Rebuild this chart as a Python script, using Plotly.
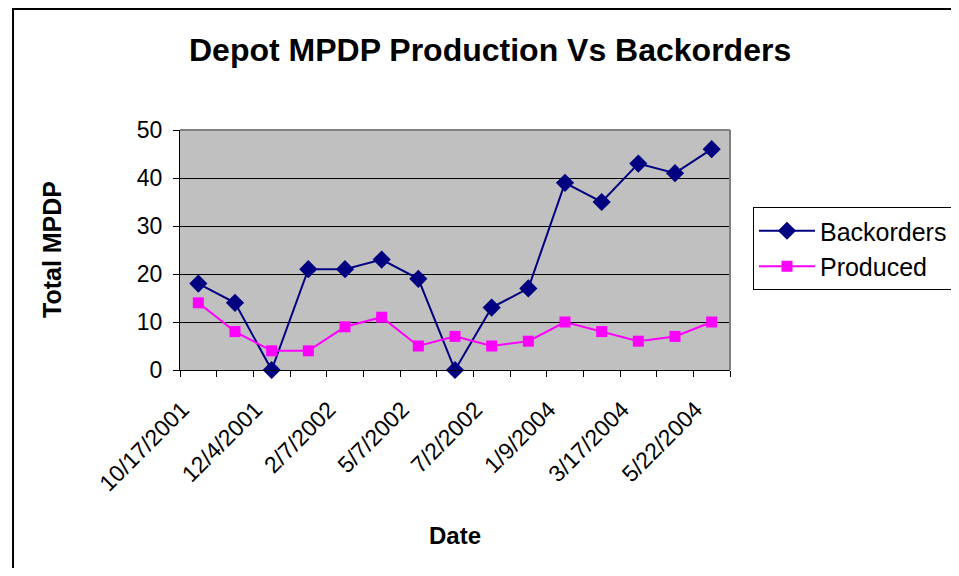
import plotly.graph_objects as go

positions = list(range(1, 16))
tick_positions = [1, 3, 5, 7, 9, 11, 13, 15]
tick_labels = ["10/17/2001", "12/4/2001", "2/7/2002", "5/7/2002",
               "7/2/2002", "1/9/2004", "3/17/2004", "5/22/2004"]
backorders = [18, 14, 0, 21, 21, 23, 19, 0, 13, 17, 39, 35, 43, 41, 46]
produced = [14, 8, 4, 4, 9, 11, 5, 7, 5, 6, 10, 8, 6, 7, 10]

FONT = "Liberation Sans, Arial, sans-serif"

fig = go.Figure()

fig.add_trace(go.Scatter(
    x=positions, y=backorders, mode="lines+markers", name="Backorders",
    line=dict(color="#000080", width=2),
    marker=dict(symbol="diamond", size=14, color="#000080"),
    cliponaxis=False,
))
fig.add_trace(go.Scatter(
    x=positions, y=produced, mode="lines+markers", name="Produced",
    line=dict(color="#FF00FF", width=2),
    marker=dict(symbol="square", size=11, color="#FF00FF"),
    cliponaxis=False,
))

# outer chart frame (right and bottom sides run off the picture)
fig.add_shape(type="rect", xref="paper", yref="paper",
              x0=-0.3036, x1=1.45, y0=-0.9, y1=1.504,
              line=dict(color="black", width=2), layer="below")
# grey top/right border of the plot area
fig.add_shape(type="line", xref="paper", yref="paper", x0=0, x1=1, y0=1, y1=1,
              line=dict(color="#808080", width=2))
fig.add_shape(type="line", xref="paper", yref="paper", x0=1, x1=1, y0=0, y1=1,
              line=dict(color="#808080", width=2))

fig.add_annotation(text="<b>Depot MPDP Production Vs Backorders</b>",
                   xref="paper", yref="paper", x=0.5636, y=1.333,
                   xanchor="center", yanchor="middle", showarrow=False,
                   font=dict(size=32, color="black", family=FONT))
fig.add_annotation(text="<b>Total MPDP</b>", textangle=-90,
                   xref="paper", yref="paper", x=-0.2327, y=0.5,
                   xanchor="center", yanchor="middle", showarrow=False,
                   font=dict(size=25, color="black", family=FONT))
fig.add_annotation(text="<b>Date</b>",
                   xref="paper", yref="paper", x=0.5, y=-0.6875,
                   xanchor="center", yanchor="middle", showarrow=False,
                   font=dict(size=24, color="black", family=FONT))

fig.update_layout(
    width=943, height=560,
    margin=dict(l=172, r=221, t=122, b=198, autoexpand=False),
    paper_bgcolor="white",
    plot_bgcolor="#C0C0C0",
    font=dict(family=FONT, color="black", size=23),
    showlegend=True,
    legend=dict(xref="container", yref="container", x=0.790, y=0.6446,
                xanchor="left", yanchor="top",
                bgcolor="white", bordercolor="black", borderwidth=1,
                itemwidth=56, font=dict(size=25, family=FONT)),
    xaxis=dict(
        range=[0.5, 15.5], tickmode="array", tickvals=tick_positions,
        ticktext=tick_labels, tickangle=-45, ticks="", showgrid=False,
        zeroline=False, showline=True, linecolor="black", linewidth=1,
        ticklabelstandoff=16, ticklabelshift=-16,
        minor=dict(tick0=0.5, dtick=1, ticks="outside", ticklen=6,
                   tickcolor="black", showgrid=False),
    ),
    yaxis=dict(
        range=[0, 50], dtick=10, ticks="outside", ticklen=6, tickcolor="black",
        showgrid=True, gridcolor="black", gridwidth=1, zeroline=False,
        showline=True, linecolor="black", linewidth=1, ticklabelstandoff=6,
    ),
)

fig.write_html("out.html")
